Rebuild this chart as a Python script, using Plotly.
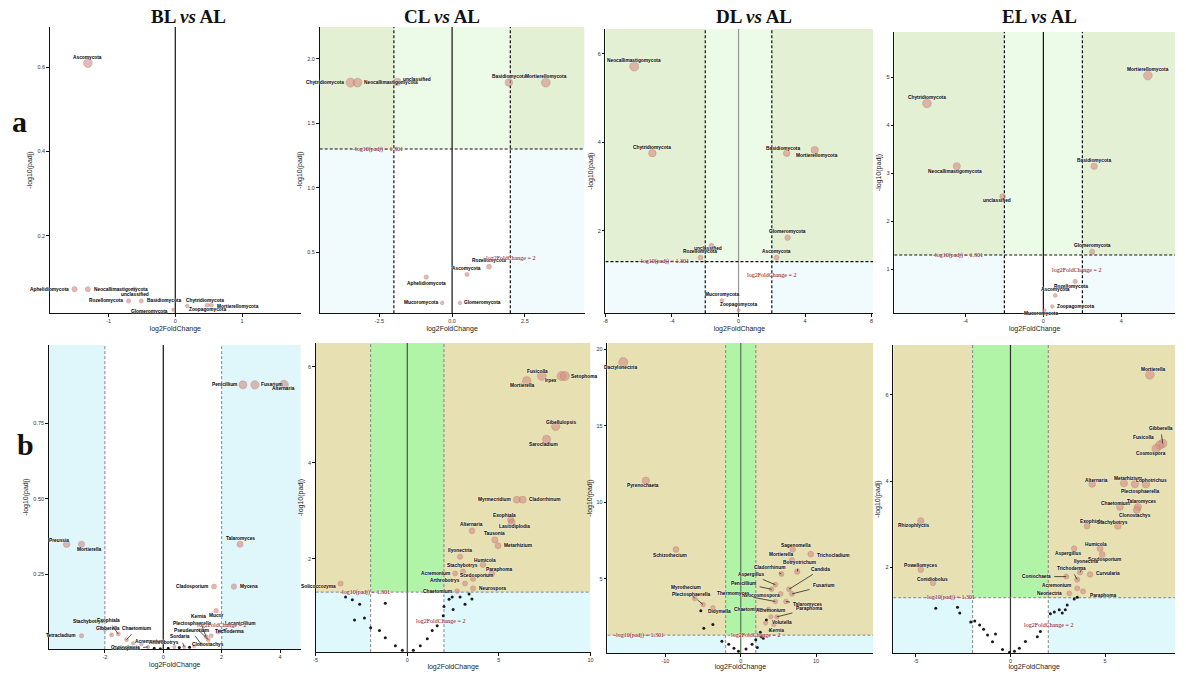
import math
import plotly.graph_objects as go

W, H, OFF = 1170, 663, 8

# ---------------- data ----------------
GROUPS = ["BL", "CL", "DL", "EL"]
REF = "AL"
ROW_TAGS = ["a", "b"]
Y_TITLE = "-log10(padj)"
X_TITLE = "log2FoldChange"
PADJ_LINE = 1.301
LFC_LINE = 2

# row a (phylum level)
BL_A_X = [-1.31, -1.51, -1.31, -0.61, -0.70, -0.51, -0.03, 0.18, 0.48, 0.54]
BL_A_Y = [0.61, 0.073, 0.073, 0.073, 0.045, 0.045, 0.024, 0.033, 0.035, 0.035]
BL_A_LAB = ["Ascomycota", "Aphelidiomycota", "Neocallimastigomycota", "unclassified", "Rozellomycota",
            "Basidiomycota", "Glomeromycota", "Zoopagomycota", "Chytridiomycota", "Mortierellomycota"]

CL_A_X = [-3.49, -3.25, -1.88, 1.95, 3.22, 1.27, 0.51, -0.89, -0.34, 0.27]
CL_A_Y = [1.815, 1.815, 1.82, 1.815, 1.815, 0.39, 0.33, 0.31, 0.11, 0.11]
CL_A_LAB = ["Chytridiomycota", "Neocallimastigomycota", "unclassified", "Basidiomycota", "Mortierellomycota",
            "Rozellomycota", "Ascomycota", "Aphelidiomycota", "Mucoromycota", "Glomeromycota"]

DL_A_X = [-6.27, -5.18, 2.89, 4.58, 2.95, -1.63, -2.29, 2.29, -1.0, 0.0]
DL_A_Y = [5.71, 3.75, 3.75, 3.82, 1.84, 1.66, 1.39, 1.39, 0.42, 0.2]
DL_A_LAB = ["Neocallimastigomycota", "Chytridiomycota", "Basidiomycota", "Mortierellomycota", "Glomeromycota",
            "unclassified", "Rozellomycota", "Ascomycota", "Mucoromycota", "Zoopagomycota"]

EL_A_X = [5.36, -5.97, -4.44, -2.09, 2.6, 2.5, 1.63, 0.61, 0.46, 0.05]
EL_A_Y = [5.04, 4.46, 3.15, 2.52, 3.15, 1.37, 0.75, 0.46, 0.23, 0.15]
EL_A_LAB = ["Mortierellomycota", "Chytridiomycota", "Neocallimastigomycota", "unclassified", "Basidiomycota",
            "Glomeromycota", "Rozellomycota", "Ascomycota", "Zoopagomycota", "Mucoromycota"]

# row b (genus level)
BL_B_X = [2.73, 3.14, 4.13, -3.31, -2.8, 2.63, 1.74, 2.42, 1.81, -2.8,
          -2.0, -1.77, -1.54, -1.26, -1.03, -0.75, -0.52, 0.38, 0.72, 1.06, 1.30, 1.54, 1.47, 1.64, 1.88]
BL_B_Y = [0.878, 0.878, 0.878, 0.35, 0.35, 0.35, 0.21, 0.21, 0.13, 0.047,
          0.069, 0.05, 0.053, 0.034, 0.022, 0.019, 0.01, 0.01, 0.01, 0.013, 0.019, 0.034, 0.044, 0.047, 0.06]
BL_B_LAB = ["Penicillium", "Fusarium", "Alternaria", "Preussia", "Mortierella", "Talaromyces", "Cladosporium",
            "Mycena", "Mucor", "Tetracladium",
            "Stachybotrys", "Gibberella", "Exophiala", "Chaetomium", "Coniochaeta", "Acremonium", "Cercophora",
            "Arthrobotrys", "Sordaria", "Clonostachys", "Pseudeurotium", "Plectosphaerella", "Kernia",
            "Trichoderma", "Lecanicillium"]
BL_B_DOT_X = [-0.31, 0.17, -0.1, 0.55, 0.9]
BL_B_DOT_Y = [0.006, 0.006, 0.004, 0.008, 0.009]

CL_B_X = [6.52, 7.34, 8.42, 8.6, 8.1, 7.6, 5.98, 6.3, 5.65, 5.7, 3.53, 4.78, 4.95, 2.88, 4.13, 3.04,
          4.62, 2.61, 3.59, 3.15, 3.59, -3.64, 2.72]
CL_B_Y = [5.71, 5.81, 5.81, 5.81, 4.76, 4.49, 3.23, 3.23, 2.81, 2.75, 2.58, 2.39, 2.27, 2.04, 1.87, 1.73,
          1.69, 1.69, 1.58, 1.48, 1.38, 1.48, 1.32]
CL_B_LAB = ["Mortierella", "Fusicolla", "Irpex", "Setophoma", "Gibellulopsis", "Sarocladium", "Myrmecridium",
            "Cladorrhinum", "Exophiala", "Lasiodiplodia", "Alternaria", "Tausonia", "Metarhizium",
            "Ilyonectria", "Humicola", "Stachybotrys", "Paraphoma", "Acremonium", "Scedosporium",
            "Arthrobotrys", "Neurospora", "Solicoccozyma", "Chaetomium"]
CL_B_DOT_X = [-3.37, -3.0, -2.6, -1.2, -2.88, -2.34, -2.0, -1.52, -1.2, -0.65, -0.27, 0.33, 0.71, 1.09,
              1.36, 1.63, 1.96, 2.0, 2.28, 2.5, 2.88, 3.15, 3.37, 3.53, 2.45]
CL_B_DOT_Y = [1.2, 1.14, 1.05, 1.07, 0.72, 0.76, 0.56, 0.5, 0.35, 0.18, 0.09, 0.09, 0.18, 0.33,
              0.5, 0.6, 0.81, 1.0, 1.15, 0.94, 1.2, 1.05, 1.26, 1.16, 1.2]

DL_B_X = [-15.6, -12.6, -8.6, -6.1, -5.0, -3.7, 6.9, 9.3, 6.8, 7.5, 5.4, 4.6, 6.4, 6.8, 5.3, 4.1,
          6.0, 4.6, 3.7, 4.0, 4.8, 3.3, 4.4]
DL_B_Y = [19.15, 11.4, 6.9, 3.7, 3.3, 3.1, 6.9, 6.6, 6.2, 5.45, 5.3, 4.6, 4.3, 4.0, 4.0, 4.3,
          3.5, 3.5, 3.0, 2.5, 2.5, 2.1, 2.0]
DL_B_LAB = ["Dactylonectria", "Pyrenochaeta", "Schizothecium", "Myrothecium", "Plectosphaerella",
            "Didymella", "Sagenomella", "Trichocladium", "Mortierella", "Botryotrichum", "Cladorrhinum",
            "Aspergillus", "Candida", "Fusarium", "Neocosmospora", "Penicillium", "Talaromyces",
            "Thermomyces", "Chaetomium", "Acremonium", "Paraphoma", "Volutella", "Kernia"]
DL_B_DOT_X = [-2.5, -1.6, -0.9, -0.3, 0.7, 1.5, 2.0, 2.7, -4.9, -3.7, -5.3, 3.0, 3.9, 2.2, 3.4, 2.6]
DL_B_DOT_Y = [0.9, 0.7, 0.45, 0.25, 0.4, 0.7, 1.0, 1.2, 1.75, 2.0, 2.9, 1.1, 1.6, 0.5, 2.3, 1.5]

EL_B_X = [7.37, 8.05, 7.89, 7.7, 4.32, 6.0, 6.58, 7.16, 5.79, 6.74, 6.68, 4.05, 5.68, 3.37, 4.74, 4.85,
          3.68, 4.21, 3.53, 2.95, 3.53, 3.84, 3.11, -4.74, -4.74, -4.1]
EL_B_Y = [6.46, 4.87, 4.83, 4.75, 3.93, 3.95, 3.93, 3.93, 3.4, 3.4, 3.33, 2.96, 2.96, 2.44, 2.44, 2.3,
          1.89, 1.84, 1.72, 1.79, 1.52, 1.45, 1.40, 3.08, 1.95, 1.64]
EL_B_LAB = ["Mortierella", "Gibberella", "Fusicolla", "Cosmospora", "Alternaria", "Metarhizium",
            "Plectosphaerella", "Lophotrichus", "Chaetomium", "Talaromyces", "Clonostachys", "Exophiala",
            "Stachybotrys", "Aspergillus", "Humicola", "Scedosporium", "Ilyonectria", "Curvularia",
            "Trichoderma", "Coniochaeta", "Acremonium", "Paraphoma", "Neonectria", "Rhizophlyctis",
            "Powellomyces", "Conidiobolus"]
EL_B_DOT_X = [-3.95, -2.8, -2.68, -2.1, -1.89, -1.63, -1.42, -1.21, -0.95, -0.79, -0.42, -0.05, 0.21,
              0.47, 0.79, 1.42, 1.58, 2.11, 2.32, 2.58, 2.74, 2.9, 3.0, 3.37, 3.53]
EL_B_DOT_Y = [1.06, 1.08, 0.95, 0.74, 0.76, 0.67, 0.57, 0.44, 0.28, 0.46, 0.1, 0.04, 0.06,
              0.13, 0.29, 0.4, 0.52, 0.93, 0.97, 1.02, 0.95, 1.02, 1.13, 1.27, 1.31]

# ---------------- label placement (style: pixel offsets) ----------------
# name: (dx, dy, anchor, leader)
BL_A_OFF = {"Ascomycota": (0, 6, "c", 0), "Aphelidiomycota": (-4, 0, "r", 0),
            "Neocallimastigomycota": (4, 0, "l", 0), "unclassified": (0, -5, "c", 0),
            "Rozellomycota": (-4, 0, "r", 0), "Basidiomycota": (4, 0, "l", 0),
            "Glomeromycota": (-3, -2, "r", 0), "Zoopagomycota": (0, -4, "l", 0),
            "Chytridiomycota": (-2, 5, "c", 0), "Mortierellomycota": (4, -1, "l", 0)}
CL_A_OFF = {"Chytridiomycota": (-5, 0, "r", 0), "Neocallimastigomycota": (4, 0, "l", 0),
            "unclassified": (4, 2, "l", 0), "Aphelidiomycota": (0, -6, "c", 0),
            "Mucoromycota": (-2, 0, "r", 0), "Glomeromycota": (2, 0, "l", 0)}
DL_A_OFF = {"Basidiomycota": (-4, 5, "c", 0), "Mortierellomycota": (2, -5, "c", 0),
            "unclassified": (-3, -3, "c", 0)}
EL_A_OFF = {"Neocallimastigomycota": (-2, -5, "c", 0), "unclassified": (-6, -4, "c", 0),
            "Rozellomycota": (-4, -5, "c", 0), "Zoopagomycota": (3, 0, "l", 0),
            "Mucoromycota": (-3, -3, "c", 0)}
BL_B_OFF = {"Penicillium": (-4, 0, "r", 0), "Fusarium": (4, 0, "l", 0), "Alternaria": (0, -4, "c", 0),
            "Preussia": (-8, 4, "c", 0), "Mortierella": (8, -5, "c", 0), "Cladosporium": (-4, 0, "r", 0),
            "Mycena": (4, 0, "l", 0), "Mucor": (0, -5, "c", 0), "Tetracladium": (-4, 0, "r", 0),
            "Stachybotrys": (-16, 8, "c", 1), "Gibberella": (-4, 6, "c", 1), "Exophiala": (-10, 14, "c", 1),
            "Chaetomium": (10, 11, "c", 1), "Coniochaeta": (-8, -4, "c", 1), "Acremonium": (8, 3, "c", 1),
            "Cercophora": (-22, -2, "c", 1), "Arthrobotrys": (-10, 4, "c", 1), "Sordaria": (-4, 10, "c", 1),
            "Clonostachys": (14, 2, "c", 1), "Pseudeurotium": (-10, 14, "c", 1),
            "Plectosphaerella": (-16, 16, "c", 1), "Kernia": (-8, 20, "c", 1),
            "Trichoderma": (18, 4, "c", 1), "Lecanicillium": (22, 8, "c", 1)}
CL_B_OFF = {"Mortierella": (-4, -5, "c", 0), "Fusicolla": (-4, 5, "c", 0), "Irpex": (-3, -4, "r", 0),
            "Setophoma": (4, 0, "l", 0), "Gibellulopsis": (5, 4, "c", 0), "Sarocladium": (-3, -5, "c", 0),
            "Myrmecridium": (-4, 0, "r", 0), "Cladorrhinum": (4, 0, "l", 0), "Exophiala": (-6, 4, "c", 0),
            "Lasiodiplodia": (3, -4, "c", 0), "Metarhizium": (4, 0, "l", 0), "Humicola": (2, 4, "c", 0),
            "Paraphoma": (7, 4, "c", 0), "Acremonium": (-3, 0, "r", 0), "Scedosporium": (3, 3, "c", 0),
            "Arthrobotrys": (-3, 3, "r", 0), "Neurospora": (4, 0, "l", 0),
            "Solicoccozyma": (-3, -3, "r", 0), "Chaetomium": (-3, 0, "r", 0)}
DL_B_OFF = {"Dactylonectria": (-3, -5, "c", 0), "Pyrenochaeta": (-3, -5, "c", 0),
            "Schizothecium": (-6, -6, "c", 0), "Myrothecium": (-9, 11, "c", 1),
            "Plectosphaerella": (-12, 10, "c", 1), "Didymella": (7, -4, "c", 0),
            "Sagenomella": (3, 4, "c", 0), "Trichocladium": (4, -1, "l", 0), "Mortierella": (-10, 6, "c", 0),
            "Botryotrichum": (2, 9, "c", 1), "Cladorrhinum": (-12, 6, "c", 1), "Aspergillus": (-24, 10, "c", 1),
            "Candida": (32, 20, "c", 1), "Fusarium": (32, 8, "c", 1), "Neocosmospora": (-20, -2, "c", 1),
            "Penicillium": (-28, 6, "c", 1), "Talaromyces": (22, -3, "c", 1), "Thermomyces": (-42, 8, "c", 1),
            "Chaetomium": (-20, 0, "c", 1), "Acremonium": (0, 6, "c", 0), "Paraphoma": (32, 8, "c", 1),
            "Volutella": (4, 0, "l", 0), "Kernia": (3, -6, "c", 0)}
EL_B_OFF = {"Mortierella": (4, 5, "c", 0), "Gibberella": (-2, 15, "c", 1), "Fusicolla": (-4, 8, "r", 0),
            "Cosmospora": (-5, -5, "c", 0), "Alternaria": (4, 4, "c", 0), "Metarhizium": (4, 5, "c", 0),
            "Plectosphaerella": (5, -7, "c", 0), "Lophotrichus": (6, 4, "c", 0), "Chaetomium": (-4, 4, "c", 0),
            "Talaromyces": (4, 6, "c", 0), "Clonostachys": (-2, -5, "c", 0), "Exophiala": (4, 5, "c", 0),
            "Stachybotrys": (-5, 4, "c", 0), "Aspergillus": (-6, -5, "c", 0), "Humicola": (-4, 4, "c", 0),
            "Scedosporium": (2, -5, "c", 0), "Ilyonectria": (6, 11, "c", 1), "Curvularia": (4, 1, "l", 0),
            "Trichoderma": (-6, 11, "c", 1), "Coniochaeta": (-30, 0, "c", 1), "Acremonium": (-4, 3, "r", 0),
            "Paraphoma": (5, -4, "l", 0), "Neonectria": (-5, 0, "r", 0), "Rhizophlyctis": (-7, -5, "c", 0),
            "Powellomyces": (0, 4, "c", 0), "Conidiobolus": (0, 4, "c", 0)}

# ---------------- panel layout ----------------
PANELS = [
    dict(box=(48, 300, 27, 315), xr=(-1.88, 1.88), yr=(0.016, 0.696), xt=[-1, 0, 1], xtl=None,
         yt=[0.2, 0.4, 0.6], ytl=None, bg=None, X=BL_A_X, Y=BL_A_Y, L=BL_A_LAB, DX=[], DY=[],
         off=BL_A_OFF, notes=[], zc="#111"),
    dict(box=(319, 585, 27, 315), xr=(-4.55, 4.55), yr=(0.031, 2.246), xt=[-2.5, 0, 2.5],
         xtl=["-2.5", "0.0", "2.5"], yt=[0.5, 1, 1.5, 2], ytl=["0.5", "1.0", "1.5", "2.0"], bg="a",
         X=CL_A_X, Y=CL_A_Y, L=CL_A_LAB, DX=[], DY=[], off=CL_A_OFF,
         notes=[(-2.53, PADJ_LINE, "p"), (2.0, 0.46, "f")], zc="#111"),
    dict(box=(606, 875, 29, 315), xr=(-8.0, 8.1), yr=(0.135, 6.56), xt=[-8, -4, 0, 4, 8], xtl=None,
         yt=[2, 4, 6], ytl=None, bg="a", X=DL_A_X, Y=DL_A_Y, L=DL_A_LAB, DX=[], DY=[], off=DL_A_OFF,
         notes=[(-4.5, PADJ_LINE, "p"), (2.0, 1.0, "f")], zc="#999"),
    dict(box=(896, 1178, 32, 315), xr=(-7.65, 6.75), yr=(0.09, 5.95), xt=[-4, 0, 4], xtl=None,
         yt=[1, 2, 3, 4, 5], ytl=None, bg="a", X=EL_A_X, Y=EL_A_Y, L=EL_A_LAB, DX=[], DY=[], off=EL_A_OFF,
         notes=[(-4.4, PADJ_LINE, "p"), (1.7, 0.98, "f")], zc="#111"),
    dict(box=(47, 300, 347, 653), xr=(-3.92, 4.71), yr=(0.003, 1.01), xt=[-2, 0, 2, 4], xtl=None,
         yt=[0.25, 0.5, 0.75], ytl=["0.25", "0.50", "0.75"], bg="c", X=BL_B_X, Y=BL_B_Y, L=BL_B_LAB,
         DX=BL_B_DOT_X, DY=BL_B_DOT_Y, off=BL_B_OFF, notes=[(2.0, 0.084, "f")], zc="#111"),
    dict(box=(315, 591, 345, 656), xr=(-5, 10), yr=(0.05, 6.5), xt=[-5, 0, 5, 10], xtl=None,
         yt=[2, 4, 6], ytl=None, bg="b", X=CL_B_X, Y=CL_B_Y, L=CL_B_LAB, DX=CL_B_DOT_X, DY=CL_B_DOT_Y,
         off=CL_B_OFF, notes=[(-2.3, PADJ_LINE, "p"), (1.8, 0.7, "f")], zc="#445544"),
    dict(box=(608, 875, 345, 657), xr=(-17.7, 17.6), yr=(0.13, 20.4), xt=[-10, 0, 10], xtl=None,
         yt=[5, 10, 15, 20], ytl=None, bg="b", X=DL_B_X, Y=DL_B_Y, L=DL_B_LAB, DX=DL_B_DOT_X,
         DY=DL_B_DOT_Y, off=DL_B_OFF, notes=[(-13.5, PADJ_LINE, "p"), (2.0, PADJ_LINE, "f")], zc="#557755"),
    dict(box=(895, 1178, 347, 657), xr=(-6.2, 8.7), yr=(0.02, 7.15), xt=[-5, 0, 5], xtl=None,
         yt=[2, 4, 6], ytl=None, bg="b", X=EL_B_X, Y=EL_B_Y, L=EL_B_LAB, DX=EL_B_DOT_X, DY=EL_B_DOT_Y,
         off=EL_B_OFF, notes=[(-3.2, PADJ_LINE, "p"), (2.0, 0.68, "f")], zc="#333"),
]

BG = {
    "a": dict(uo="#e3f0d3", um="#ecfbe7", lo="#f1fafd", lm="#ffffff", line="#111", lw=1.2),
    "b": dict(uo="#e6e0b3", um="#b1f3a7", lo="#dff8fb", lm="#ffffff", line="#777", lw=0.9),
    "c": dict(lo="#dff6fa", lm="#ffffff", line="#777", lw=0.9),
}
DASH = "3px,2px"

LABEL_FONT = dict(family="Liberation Sans, Arial", size=4.8, color="#000", weight="bold",
                  shadow="0px 0px 1.5px #fff, 0px 0px 1.5px #fff")
NOTE_FONT = dict(family="Liberation Serif, Times New Roman", size=6, color="#8b0000",
                 shadow="0px 0px 2px #fff, 0px 0px 2px #fff")


def clamp(v):
    return max(0.0, min(1.0, v))


def px_to_paper(x, y):
    return (x - OFF) / W, 1 - (y - OFF) / H


fig = go.Figure()
layout = {}
shapes = []
annotations = []

for i, p in enumerate(PANELS, start=1):
    s = "" if i == 1 else str(i)
    xa, ya = "x" + s, "y" + s
    L, R, T, B = p["box"]
    xd = [clamp((L - OFF) / W), clamp((R - OFF) / W)]
    yd = [clamp(1 - (B - OFF) / H), clamp(1 - (T - OFF) / H)]
    x0, x1 = p["xr"]
    y0, y1 = p["yr"]
    common = dict(showline=True, linecolor="#111", linewidth=1.3, ticks="outside", ticklen=2.5,
                  tickwidth=1, tickcolor="#111", showgrid=False, zeroline=False,
                  tickfont=dict(family="Liberation Sans, Arial", size=5.5, color="#333"))
    layout["xaxis" + s] = dict(domain=xd, anchor=ya, range=[x0, x1], tickvals=p["xt"],
                               ticktext=p["xtl"] or [str(v) for v in p["xt"]],
                               title=dict(text=X_TITLE, standoff=2,
                                          font=dict(family="Liberation Sans, Arial", size=7, color="#222")),
                               **common)
    layout["yaxis" + s] = dict(domain=yd, anchor=xa, range=[y0, y1], tickvals=p["yt"],
                               ticktext=p["ytl"] or [str(v) for v in p["yt"]],
                               title=dict(text=Y_TITLE, standoff=3,
                                          font=dict(family="Liberation Sans, Arial", size=7, color="#222")),
                               **common)

    def rect(a, b, c, d, col):
        shapes.append(dict(type="rect", xref=xa, yref=ya, x0=a, x1=b, y0=c, y1=d,
                           fillcolor=col, line=dict(width=0), layer="below"))

    def seg(a, b, c, d, col, w, dash):
        shapes.append(dict(type="line", xref=xa, yref=ya, x0=a, x1=b, y0=c, y1=d,
                           line=dict(color=col, width=w, dash=dash), layer="below"))

    bg = p["bg"]
    if bg in ("a", "b"):
        c = BG[bg]
        rect(x0, -LFC_LINE, PADJ_LINE, y1, c["uo"])
        rect(LFC_LINE, x1, PADJ_LINE, y1, c["uo"])
        rect(-LFC_LINE, LFC_LINE, PADJ_LINE, y1, c["um"])
        rect(x0, -LFC_LINE, y0, PADJ_LINE, c["lo"])
        rect(LFC_LINE, x1, y0, PADJ_LINE, c["lo"])
        rect(-LFC_LINE, LFC_LINE, y0, PADJ_LINE, c["lm"])
        seg(0, 0, y0, y1, p["zc"], 1.2, "solid")
        for v in (-LFC_LINE, LFC_LINE):
            seg(v, v, y0, y1, c["line"], c["lw"], DASH)
        seg(x0, x1, PADJ_LINE, PADJ_LINE, c["line"], c["lw"], DASH)
    elif bg == "c":
        c = BG[bg]
        rect(x0, -LFC_LINE, y0, y1, c["lo"])
        rect(LFC_LINE, x1, y0, y1, c["lo"])
        seg(0, 0, y0, y1, p["zc"], 1.2, "solid")
        for v in (-LFC_LINE, LFC_LINE):
            seg(v, v, y0, y1, c["line"], c["lw"], DASH)
    else:
        seg(0, 0, y0, y1, p["zc"], 1.2, "solid")

    # unlabeled points
    if p["DX"]:
        fig.add_trace(go.Scatter(x=p["DX"], y=p["DY"], mode="markers", xaxis=xa, yaxis=ya,
                                 marker=dict(size=3, color="#1a1a1a"), showlegend=False, hoverinfo="skip"))
    # labeled points
    mx = max(abs(v) for v in p["X"])
    my = max(p["Y"])
    sizes = [3.2 + 5.8 * math.sqrt((abs(xv) / mx) * (yv / my)) for xv, yv in zip(p["X"], p["Y"])]
    fig.add_trace(go.Scatter(x=p["X"], y=p["Y"], mode="markers", xaxis=xa, yaxis=ya, text=p["L"],
                             marker=dict(size=sizes, color="rgba(214,146,136,0.9)",
                                         line=dict(color="rgba(170,96,90,0.8)", width=0.6)),
                             showlegend=False, hoverinfo="text"))
    for xv, yv, name in zip(p["X"], p["Y"], p["L"]):
        dx, dy, anc, lead = p["off"].get(name, (0, 6, "c", 0))
        xanchor = {"c": "center", "l": "left", "r": "right"}[anc]
        if lead:
            annotations.append(dict(x=xv, y=yv, xref=xa, yref=ya, text=name, showarrow=True,
                                    ax=dx, ay=-dy, arrowhead=0, arrowwidth=0.7, arrowcolor="#111",
                                    standoff=0, startstandoff=2, font=LABEL_FONT))
        else:
            annotations.append(dict(x=xv, y=yv, xref=xa, yref=ya, text=name, showarrow=False,
                                    xshift=dx, yshift=dy, xanchor=xanchor, yanchor="middle",
                                    font=LABEL_FONT))
    for nx, ny, kind in p["notes"]:
        txt = ("-log10(padj) = %.3f" % PADJ_LINE) if kind == "p" else ("log2FoldChange = %d" % LFC_LINE)
        annotations.append(dict(x=nx, y=ny, xref=xa, yref=ya, text=txt, showarrow=False,
                                xanchor="center", yanchor="middle", font=NOTE_FONT))

# titles
TITLE_POS = [(187, 17), (442, 17), (755, 17), (1042, 17)]
for g, (cx, cy) in zip(GROUPS, TITLE_POS):
    px, py = px_to_paper(cx, cy)
    annotations.append(dict(x=px, y=py, xref="paper", yref="paper", showarrow=False,
                            text="%s <i>vs</i> %s" % (g, REF), xanchor="center", yanchor="middle",
                            font=dict(family="Liberation Serif, Times New Roman", size=19,
                                      color="#111", weight="bold")))
for tag, (cx, cy) in zip(ROW_TAGS, [(18, 122), (24, 447)]):
    px, py = px_to_paper(cx, cy)
    annotations.append(dict(x=px, y=py, xref="paper", yref="paper", showarrow=False, text=tag,
                            xanchor="center", yanchor="middle",
                            font=dict(family="Liberation Serif, Times New Roman", size=30,
                                      color="#111", weight="bold")))

fig.update_layout(width=W, height=H, margin=dict(l=0, r=0, t=0, b=0), paper_bgcolor="white",
                  plot_bgcolor="white", shapes=shapes, annotations=annotations, showlegend=False,
                  **layout)
fig.write_html("out.html")
